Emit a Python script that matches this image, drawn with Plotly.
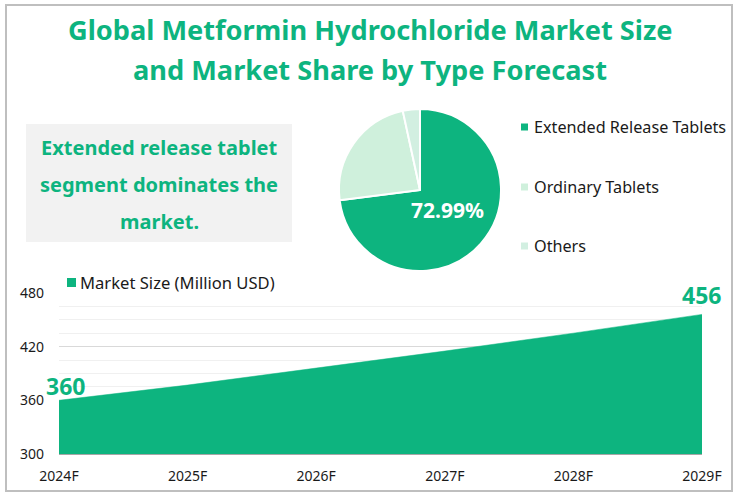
import plotly.graph_objects as go

FONT = "Noto Sans"
GREEN = "#0DB47F"
LIGHT = "#CFF0DC"
LIGHT2 = "#D2EFE1"
W, H = 740, 496

# data
years = ["2024F", "2025F", "2026F", "2027F", "2028F", "2029F"]
market_size = [360, 377, 396, 415, 435, 456]
types = ["Extended Release Tablets", "Ordinary Tablets", "Others"]
shares = [72.99, 23.6, 3.41]
share_colors = [GREEN, LIGHT, LIGHT2]
y_ticks = [300, 360, 420, 480]
title_lines = ["Global Metformin Hydrochloride Market Size", "and Market Share by Type Forecast"]
note_lines = ["Extended release tablet", "segment dominates the", "market."]


def px(x):
    return x / W


def py(y):
    return 1 - y / H


fig = go.Figure()

# area chart
fig.add_trace(go.Scatter(
    x=years, y=market_size, mode="lines", fill="tozeroy",
    fillcolor=GREEN, line=dict(color=GREEN, width=0.5),
    showlegend=False, hoverinfo="x+y",
))

# pie, starts at 12 o'clock going clockwise
r = 81
fig.add_trace(go.Pie(
    labels=types, values=shares, sort=False, direction="clockwise", rotation=0,
    marker=dict(colors=share_colors, line=dict(color="white", width=2)),
    textinfo="none",
    domain=dict(x=[px(420 - r), px(420 + r)], y=[py(190 + r), py(190 - r)]),
    showlegend=False,
))

notes = []

for line, y in zip(title_lines, [29, 69]):
    notes.append(dict(text=line, x=px(370), y=py(y), font=dict(size=27.2, color=GREEN, weight="bold")))

for line, y in zip(note_lines, [148, 184, 221]):
    notes.append(dict(text=line, x=px(159), y=py(y), font=dict(size=20, color=GREEN, weight="bold")))

# pie share label
notes.append(dict(text=f"{shares[0]:.2f}%", x=px(447), y=py(210), font=dict(size=21, color="white", weight="bold")))

# custom legends
for name, y in zip(types, [127, 187, 246]):
    notes.append(dict(text=name, x=px(532), y=py(y), xanchor="left", font=dict(size=16.2, color="#1a1a1a")))
notes.append(dict(text="Market Size (Million USD)", x=px(78), y=py(282), xanchor="left",
                  font=dict(size=16.6, color="#1a1a1a")))

for n in notes:
    n.update(xref="paper", yref="paper", showarrow=False)
    n.setdefault("xanchor", "center")
    n["yanchor"] = "middle"
    n["font"]["family"] = FONT

# end labels on the area
notes.append(dict(text=str(market_size[0]), x=years[0], y=market_size[0], xshift=6, yshift=14,
                  showarrow=False, font=dict(family=FONT, size=23, color=GREEN, weight="bold")))
notes.append(dict(text=str(market_size[-1]), x=years[-1], y=market_size[-1], xshift=-1, yshift=19,
                  showarrow=False, font=dict(family=FONT, size=23, color=GREEN, weight="bold")))

shapes = [
    dict(type="rect", xref="paper", yref="paper", x0=px(6), x1=px(732), y0=py(491), y1=py(5),
         line=dict(color="#BFBFBF", width=2), fillcolor="white", layer="below"),
    dict(type="rect", xref="paper", yref="paper", x0=px(26), x1=px(292), y0=py(242), y1=py(124),
         line=dict(width=0), fillcolor="#F2F2F2", layer="below"),
    dict(type="rect", xref="paper", yref="paper", x0=px(67), x1=px(76), y0=py(287), y1=py(278),
         line=dict(width=0), fillcolor=GREEN),
]
for color, y in zip(share_colors, [127, 187, 246]):
    shapes.append(dict(type="rect", xref="paper", yref="paper", x0=px(521), x1=px(528), y0=py(y + 3.5), y1=py(y - 3.5),
                       line=dict(width=0), fillcolor=color))

fig.update_layout(
    width=W, height=H,
    margin=dict(l=0, r=0, t=0, b=0),
    paper_bgcolor="white", plot_bgcolor="rgba(0,0,0,0)",
    font=dict(family=FONT, size=14, color="#1a1a1a"),
    annotations=notes, shapes=shapes,
    xaxis=dict(
        domain=[px(59), px(702)], range=[0, 5], type="category", showgrid=False, automargin=False,
        showline=True, linecolor="#A6A6A6", linewidth=1, ticks="", ticklabelstandoff=9,
        tickfont=dict(size=14),
    ),
    yaxis=dict(
        domain=[py(454), py(292)], range=[300, 481], tickvals=y_ticks, automargin=False,
        showgrid=True, gridcolor="#D9D9D9", gridwidth=1, zeroline=False,
        ticks="", ticklabelstandoff=14, tickfont=dict(size=14),
        minor=dict(dtick=15, showgrid=True, gridcolor="#F0F0F0", gridwidth=1, ticks=""),
    ),
)

fig.write_html("out.html", config=dict(displayModeBar=False),
               post_script="document.body.style.margin='0';document.body.style.overflow='hidden';")
